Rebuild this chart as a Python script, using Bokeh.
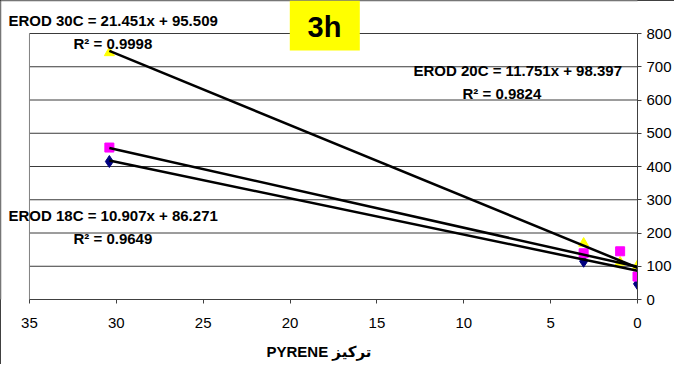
from bokeh.plotting import figure
from bokeh.models import Range1d, Label, BoxAnnotation, FixedTicker
from bokeh.embed import file_html
from bokeh.resources import INLINE

# ---- data ----
x_18c = [30.4, 3.1, 0.0]
y_18c = [415, 115, 47]
x_20c = [30.4, 3.1, 1.0, 0.0]
y_20c = [457, 139, 145, 69]
x_30c = [30.4, 3.1, 1.0, 0.0]
y_30c = [742, 169, 112, 102]
series_names = ["EROD 18C", "EROD 20C", "EROD 30C"]
slopes = [10.907, 11.751, 21.451]
intercepts = [86.271, 98.397, 95.509]
r_squared = ["0.9649", "0.9824", "0.9998"]
x_ticks = [0, 5, 10, 15, 20, 25, 30, 35]
y_ticks = [0, 100, 200, 300, 400, 500, 600, 700, 800]
panel_title = "3h"
x_title = "PYRENE تركيز"

FONT = "Liberation Sans, Arial, DejaVu Sans"
W, H = 674, 364
# plot area (axis extents) in figure pixels
PL, PR, PT, PB = 29, 638, 33, 299
X_MAX, Y_MAX = max(x_ticks), max(y_ticks)
# the frame covers the whole upper-left part so that free text is not clipped
x_lo = X_MAX * PR / (PR - PL)
y_hi = Y_MAX * PB / (PB - PT)

p = figure(width=W, height=H, output_backend="svg", toolbar_location=None,
           x_range=Range1d(x_lo, 0), y_range=Range1d(0, y_hi),
           y_axis_location="right",
           min_border_left=0, min_border_right=W - PR,
           min_border_top=0, min_border_bottom=H - PB)
p.background_fill_color = "white"
p.border_fill_color = "white"
p.outline_line_color = None
p.styles = {"outline": "1px solid black", "outline-offset": "-1px"}

# axes
p.xaxis.ticker = FixedTicker(ticks=x_ticks)
p.yaxis.ticker = FixedTicker(ticks=y_ticks)
p.xaxis.bounds = (0, X_MAX)
p.yaxis.bounds = (0, Y_MAX)
for ax in (p.xaxis[0], p.yaxis[0]):
    ax.axis_line_color = "#404040"
    ax.major_tick_line_color = "#404040"
    ax.minor_tick_line_color = None
    ax.major_tick_in = 0
    ax.major_tick_out = 4
    ax.major_label_text_font = FONT
    ax.major_label_text_font_size = "15px"
    ax.major_label_text_color = "black"
p.yaxis.major_label_standoff = 5
p.xaxis.major_label_standoff = 14
p.xaxis.axis_label = x_title
p.xaxis.axis_label_text_font = FONT
p.xaxis.axis_label_text_font_size = "15px"
p.xaxis.axis_label_text_font_style = "bold"
p.xaxis.axis_label_text_color = "black"
p.xaxis.axis_label_standoff = 12

p.xgrid.visible = False
p.ygrid.visible = False
# horizontal gridlines limited to the plot area
n = len(y_ticks)
p.segment(x0=[X_MAX] * n, y0=y_ticks, x1=[0] * n, y1=y_ticks,
          line_color="#3a3a3a", line_width=1)
# plot-area left border
p.segment(x0=[X_MAX], y0=[0], x1=[X_MAX], y1=[Y_MAX], line_color="#808080", line_width=1)

# markers
p.scatter(x_18c, y_18c, marker="diamond", size=12, fill_color="#000080", line_color="#000080")
p.scatter(x_30c, y_30c, marker="triangle", size=10, fill_color="#FFFF00", line_color="#FFFF00")
p.scatter(x_20c, y_20c, marker="square", size=9, fill_color="#FF00FF", line_color="#FF00FF")

# trendlines from the regression equations
for xs, m, b in zip([x_18c, x_20c, x_30c], slopes, intercepts):
    x0, x1 = min(xs), max(xs)
    p.line([x0, x1], [m * x0 + b, m * x1 + b], line_color="black", line_width=2.5)

# chart-area border (left/top part inside the frame)
p.add_layout(BoxAnnotation(left=0.5, right=W + 20, top=0.5, bottom=H + 20,
                           left_units="canvas", right_units="canvas",
                           top_units="canvas", bottom_units="canvas",
                           fill_alpha=0, line_color="black", line_width=1, level="annotation"))

# "3h" yellow box (canvas pixel units)
p.add_layout(BoxAnnotation(left=289.3, right=359.3, top=0, bottom=50,
                           left_units="canvas", right_units="canvas",
                           top_units="canvas", bottom_units="canvas",
                           fill_color="#FFFF00", fill_alpha=1.0, line_color=None, level="annotation"))
p.add_layout(Label(x=324, y=26, x_units="canvas", y_units="canvas", text=panel_title,
                   text_align="center", text_baseline="middle", text_font=FONT,
                   text_font_size="29px", text_font_style="bold", text_color="black",
                   level="overlay"))

# equation labels (canvas pixel units)
label_pos = [((8, 215), (73, 238)), ((413, 70), (462, 93)), ((8, 20), (73, 43))]
for name, m, b, r2, (eq_pos, r_pos) in zip(series_names, slopes, intercepts, r_squared, label_pos):
    eq = f"{name} = {m}x + {b}"
    p.add_layout(Label(x=eq_pos[0], y=eq_pos[1], x_units="canvas", y_units="canvas",
                       text=eq, text_align="left",
                       text_baseline="middle", text_font=FONT, text_font_size="15px",
                       text_font_style="bold", text_color="black", level="overlay"))
    p.add_layout(Label(x=r_pos[0], y=r_pos[1], x_units="canvas", y_units="canvas",
                       text=f"R² = {r2}", text_align="left",
                       text_baseline="middle", text_font=FONT, text_font_size="15px",
                       text_font_style="bold", text_color="black", level="overlay"))

open("out.html", "w").write(file_html(p, INLINE))
